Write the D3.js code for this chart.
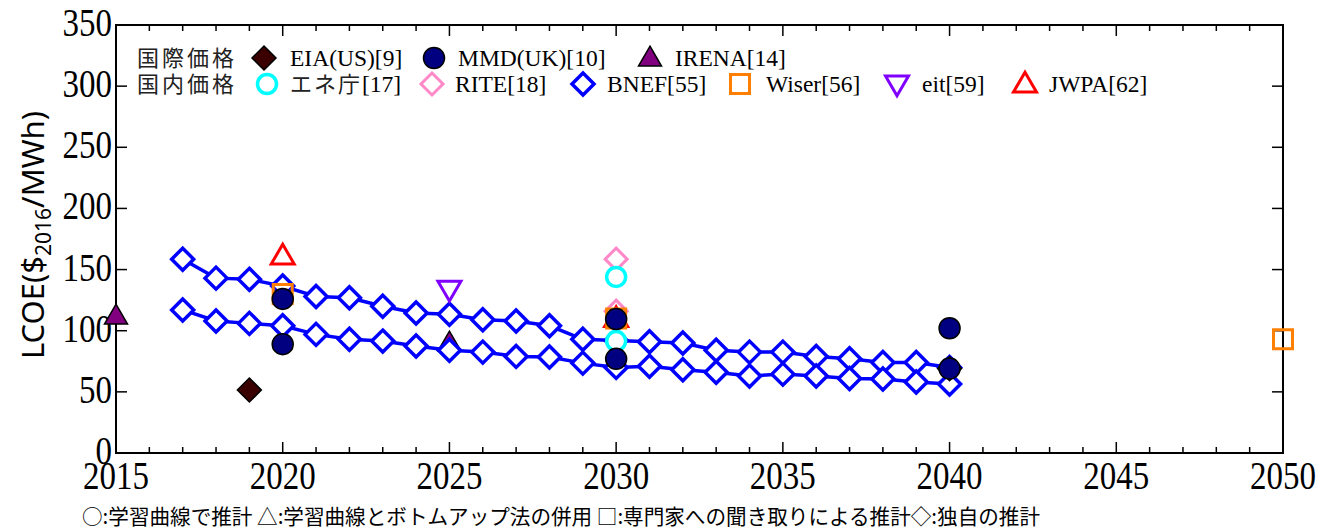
<!DOCTYPE html>
<html>
<head>
<meta charset="utf-8">
<script src="https://cdn.jsdelivr.net/npm/d3@7"></script>
<style>
  html, body { margin: 0; padding: 0; background: #fff; }
  svg { display: block; }
</style>
</head>
<body>
<svg id="chart" width="1333" height="532"></svg>
<script>
// ---- data (LCOE, $2016/MWh) ----
const xTicks = [2015, 2020, 2025, 2030, 2035, 2040, 2045, 2050];
const yTicks = [0, 50, 100, 150, 200, 250, 300, 350];

const bnefYears = [2017, 2018, 2019, 2020, 2021, 2022, 2023, 2024, 2025, 2026, 2027, 2028,
                   2029, 2030, 2031, 2032, 2033, 2034, 2035, 2036, 2037, 2038, 2039, 2040];
const bnefHigh = [158.5, 143, 142, 136.5, 128, 127, 120, 114.5, 113.5, 109, 108, 104,
                  93, 92, 91, 90, 84, 82.5, 82.5, 79, 77, 74, 74, 70];
const bnefLow  = [117, 108, 106, 104, 97, 93, 91.5, 87.5, 84, 82.5, 79, 78.5,
                  73.5, 70, 71, 68, 66, 63, 64.5, 63, 61, 60.5, 58, 56.5];

const eiaYears = [2019, 2040];       const eiaValues = [51.5, 69];
const mmdYears = [2020, 2020, 2030, 2030, 2040, 2040];
const mmdValues = [126, 89, 109.5, 77, 102, 69];
const irenaYears = [2015, 2025];     const irenaValues = [112, 90];
const eneYears = [2030, 2030];       const eneValues = [144, 91.5];
const riteYears = [2030, 2030];      const riteValues = [158.5, 116];
const wiserYears = [2020, 2030, 2050]; const wiserValues = [130, 110, 93];
const eitYears = [2025];             const eitValues = [134];
const jwpaYears = [2020, 2030];      const jwpaValues = [161, 110];

const legendRow1Title = "国際価格";
const legendRow2Title = "国内価格";
const caption = "○:学習曲線で推計 △:学習曲線とボトムアップ法の併用 □:専門家への聞き取りによる推計◇:独自の推計";

// ---- layout ----
const svg = d3.select("#chart");
const plotLeft = 116, plotRight = 1283, plotTop = 25, plotBottom = 453;
const x = d3.scaleLinear().domain([2015, 2050]).range([plotLeft, plotRight]);
const y = d3.scaleLinear().domain([0, 350]).range([plotBottom, plotTop]);

const serif = "'Liberation Serif', 'Times New Roman', serif";
const sans = "'Noto Sans', 'DejaVu Sans', sans-serif";
const cjk = "'Noto Sans CJK JP', 'Noto Sans', sans-serif";

// ---- marker shapes ----
const diamondPath = h => `M0,${-h}L${h},0L0,${h}L${-h},0Z`;
const squarePath = s => `M${-s},${-s}L${s},${-s}L${s},${s}L${-s},${s}Z`;
const triUpPath = w => { const h = w * 0.866; return `M0,${-h * 0.62}L${w / 2 + 0.5},${h * 0.42}L${-w / 2 - 0.5},${h * 0.42}Z`; };
const triDownPath = w => { const h = w * 0.866; return `M0,${h * 0.62}L${w / 2 + 0.5},${-h * 0.42}L${-w / 2 - 0.5},${-h * 0.42}Z`; };

const styles = {
  eia:   { path: diamondPath(12), fill: "#3a0000", stroke: "#000", sw: 1.5 },
  mmd:   { circle: 10.5, fill: "#000080", stroke: "#000", sw: 1.5 },
  irena: { path: triUpPath(22), fill: "#800080", stroke: "#000", sw: 1.5 },
  ene:   { circle: 9.5, fill: "#fff", stroke: "#00ffff", sw: 3.5 },
  rite:  { path: diamondPath(11), fill: "none", stroke: "#ff88c8", sw: 3 },
  bnef:  { path: diamondPath(11), fill: "#fff", stroke: "#0000ff", sw: 3.5 },
  wiser: { path: squarePath(9.5), fill: "none", stroke: "#ff8000", sw: 3 },
  eit:   { path: triDownPath(22), fill: "none", stroke: "#8000ff", sw: 3 },
  jwpa:  { path: triUpPath(22), fill: "none", stroke: "#ff0000", sw: 3 }
};

function drawMarker(g, st, cx, cy) {
  if (st.circle) {
    g.append("circle").attr("cx", cx).attr("cy", cy).attr("r", st.circle)
      .attr("fill", st.fill).attr("stroke", st.stroke).attr("stroke-width", st.sw);
  } else {
    g.append("path").attr("d", st.path).attr("transform", `translate(${cx},${cy})`)
      .attr("fill", st.fill).attr("stroke", st.stroke).attr("stroke-width", st.sw)
      .attr("stroke-linejoin", "miter");
  }
}

function drawSeries(years, values, st) {
  const g = svg.append("g");
  years.forEach((yr, i) => drawMarker(g, st, x(yr), y(values[i])));
}

// ---- frame and ticks ----
const frame = svg.append("g").attr("stroke", "#000");
frame.append("rect").attr("x", plotLeft).attr("y", plotTop)
  .attr("width", plotRight - plotLeft).attr("height", plotBottom - plotTop)
  .attr("fill", "none").attr("stroke-width", 2);

const allYears = d3.range(2015, 2051);
allYears.forEach(yr => {
  const major = yr % 5 === 0;
  const len = major ? 11 : 6;
  frame.append("line").attr("x1", x(yr)).attr("x2", x(yr))
    .attr("y1", plotBottom).attr("y2", plotBottom - len).attr("stroke-width", 1.5);
  frame.append("line").attr("x1", x(yr)).attr("x2", x(yr))
    .attr("y1", plotTop).attr("y2", plotTop + len).attr("stroke-width", 1.5);
});
yTicks.forEach(v => {
  frame.append("line").attr("x1", plotLeft).attr("x2", plotLeft + 11)
    .attr("y1", y(v)).attr("y2", y(v)).attr("stroke-width", 1.5);
  frame.append("line").attr("x1", plotRight).attr("x2", plotRight - 11)
    .attr("y1", y(v)).attr("y2", y(v)).attr("stroke-width", 1.5);
});

// tick labels (serif, slightly tall proportions)
svg.append("g").selectAll("text").data(yTicks).join("text")
  .attr("transform", d => `translate(${plotLeft - 4},${y(d) + 11}) scale(1,1.22)`)
  .attr("text-anchor", "end")
  .attr("font-family", serif).attr("font-size", 33).attr("fill", "#000")
  .text(d => d);
svg.append("g").selectAll("text").data(xTicks).join("text")
  .attr("transform", d => `translate(${x(d)},489) scale(1,1.22)`)
  .attr("text-anchor", "middle")
  .attr("font-family", serif).attr("font-size", 33).attr("fill", "#000")
  .text(d => d);

// y axis title
const yTitle = svg.append("text")
  .attr("transform", "translate(44,235) rotate(-90)")
  .attr("text-anchor", "middle")
  .attr("font-family", sans).attr("font-size", 31).attr("fill", "#000");
yTitle.append("tspan").text("LCOE($");
yTitle.append("tspan").attr("font-size", 21).attr("dy", 7).text("2016");
yTitle.append("tspan").attr("dy", -7).text("/MWh)");

// ---- data marks ----
drawSeries(irenaYears, irenaValues, styles.irena);

// BNEF: two connected diamond series
const line = d3.line().x((d, i) => x(bnefYears[i])).y(d => y(d));
[bnefHigh, bnefLow].forEach(vals => {
  svg.append("path").attr("d", line(vals)).attr("fill", "none")
    .attr("stroke", "#0000ff").attr("stroke-width", 3.5);
  drawSeries(bnefYears, vals, styles.bnef);
});

drawSeries(riteYears, riteValues, styles.rite);
drawSeries(jwpaYears, jwpaValues, styles.jwpa);
drawSeries(wiserYears, wiserValues, styles.wiser);
drawSeries(eneYears, eneValues, styles.ene);
drawSeries(eitYears, eitValues, styles.eit);
drawSeries(eiaYears, eiaValues, styles.eia);
drawSeries(mmdYears, mmdValues, styles.mmd);

// ---- legend ----
const legend = svg.append("g");
function legendTitle(txt, yy) {
  legend.append("text").attr("x", 137).attr("y", yy)
    .attr("font-family", cjk).attr("font-size", 22).attr("letter-spacing", 3)
    .attr("fill", "#222").text(txt);
}
function legendItem(st, mx, tx, yy, label) {
  drawMarker(legend, st, mx, yy - 8);
  legend.append("text").attr("x", tx).attr("y", yy)
    .attr("font-family", serif).attr("font-size", 23.5).attr("fill", "#000").text(label);
}
const r1 = 66, r2 = 92;
legendTitle(legendRow1Title, r1);
legendTitle(legendRow2Title, r2);
legendItem(styles.eia, 264, 290, r1, "EIA(US)[9]");
legendItem(styles.mmd, 434, 458, r1, "MMD(UK)[10]");
legendItem(styles.irena, 650, 675, r1, "IRENA[14]");

drawMarker(legend, styles.ene, 267, r2 - 8);
const eneLabel = legend.append("text").attr("x", 290).attr("y", r2).attr("fill", "#000");
eneLabel.append("tspan").attr("font-family", cjk).attr("font-size", 22)
  .attr("letter-spacing", 2).attr("fill", "#222").text("エネ庁");
eneLabel.append("tspan").attr("font-family", serif).attr("font-size", 23.5).text("[17]");
legendItem(styles.rite, 432, 455, r2, "RITE[18]");
legendItem(styles.bnef, 583, 607, r2, "BNEF[55]");
legendItem(styles.wiser, 740, 766, r2, "Wiser[56]");
legendItem(styles.eit, 897, 922, r2, "eit[59]");
legendItem(styles.jwpa, 1025, 1049, r2, "JWPA[62]");

// ---- caption ----
svg.append("text").attr("x", 82).attr("y", 524)
  .attr("font-family", cjk).attr("font-size", 21).attr("fill", "#000")
  .attr("textLength", 958).attr("lengthAdjust", "spacingAndGlyphs")
  .text(caption);
</script>
</body>
</html>
